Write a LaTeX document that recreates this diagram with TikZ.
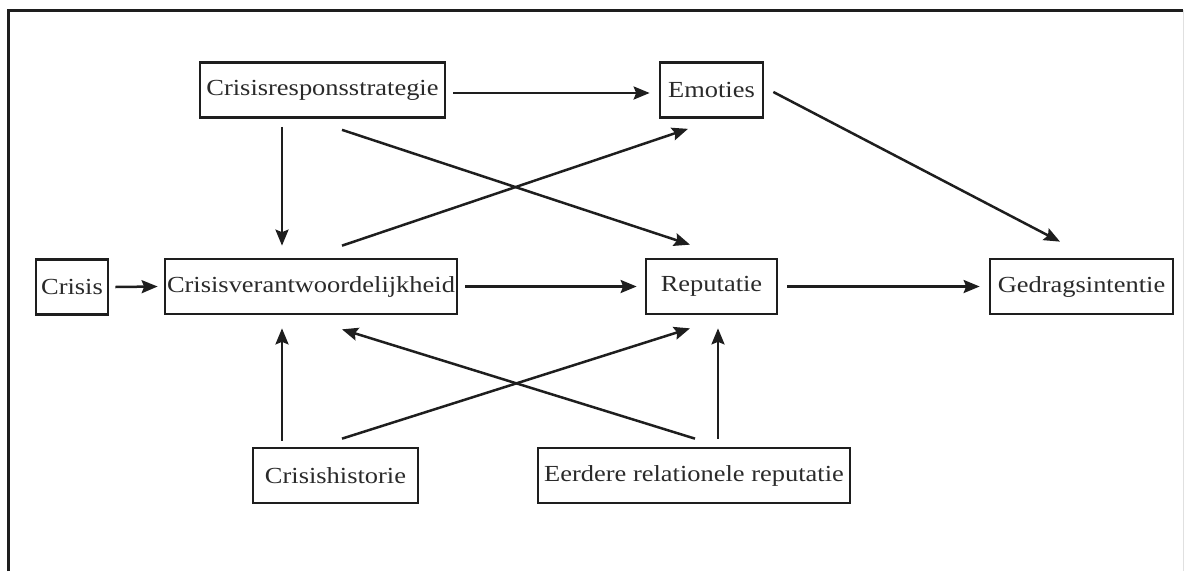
\documentclass[tikz,border=0pt]{standalone}
\usepackage{fontspec}
\setmainfont{Liberation Serif}[FakeStretch=1.15]
\usetikzlibrary{arrows.meta}
\definecolor{ink}{HTML}{1E1E1E}
\definecolor{txt}{HTML}{2A2A2A}
\tikzset{
  box/.style={draw=ink, line width=2.7pt, inner sep=0pt, minimum height=55pt, text=txt, font=\fontsize{23}{27}\selectfont},
  arr/.style={draw=ink, line width=2.5pt, -{Stealth[length=16pt,width=13pt,inset=2.5pt]}}
}
\begin{document}
\begin{tikzpicture}[x=1pt,y=-1pt]
\useasboundingbox (0,0) rectangle (1187,571);
\draw[ink, line width=3pt] (8,571) -- (8,10) -- (1183,10);
\draw[black!12, line width=1pt] (1183,10) -- (1183,571);
\node[box, minimum width=245pt] (crs) at (322.5,90) {Crisisresponsstrategie};
\node[box, minimum width=103pt] (emo) at (711.5,90) {Emoties};
\node[box, minimum width=72pt] (crisis) at (72,287) {Crisis};
\node[box, minimum width=292pt] (cv) at (311,286.5) {Crisisverantwoordelijkheid};
\node[box, minimum width=131pt] (rep) at (711.5,286.5) {Reputatie};
\node[box, minimum width=183pt] (ged) at (1081.5,286.5) {Gedragsintentie};
\node[box, minimum width=165pt] (ch) at (335.5,475.5) {Crisishistorie};
\node[box, minimum width=312pt] (eer) at (694,475.5) {Eerdere relationele reputatie};
\draw[arr] ([shift={(7,3)}]crs.east) -- ([shift={(-9,3)}]emo.west);
\draw[arr] ([shift={(9,2)}]emo.east) -- ([shift={(-21.5,-16)}]ged.north);
\draw[arr] ([shift={(-40.5,8)}]crs.south) -- ([shift={(-29,-12)}]cv.north);
\draw[arr] ([shift={(19.5,11)}]crs.south) -- ([shift={(-21.5,-13)}]rep.north);
\draw[arr] ([shift={(31,-12)}]cv.north) -- ([shift={(-23.5,10)}]emo.south);
\draw[arr] ([shift={(6,0)}]crisis.east) -- ([shift={(-6,0)}]cv.west);
\draw[arr] ([shift={(7,0)}]cv.east) -- ([shift={(-8,0)}]rep.west);
\draw[arr] ([shift={(9,0)}]rep.east) -- ([shift={(-9,0)}]ged.west);
\draw[arr] ([shift={(-53.5,-6)}]ch.north) -- ([shift={(-29,13)}]cv.south);
\draw[arr] ([shift={(6.5,-8)}]ch.north) -- ([shift={(-21.5,13)}]rep.south);
\draw[arr] ([shift={(1,-8)}]eer.north) -- ([shift={(31,14)}]cv.south);
\draw[arr] ([shift={(24,-8)}]eer.north) -- ([shift={(6.5,13)}]rep.south);
\end{tikzpicture}
\end{document}
